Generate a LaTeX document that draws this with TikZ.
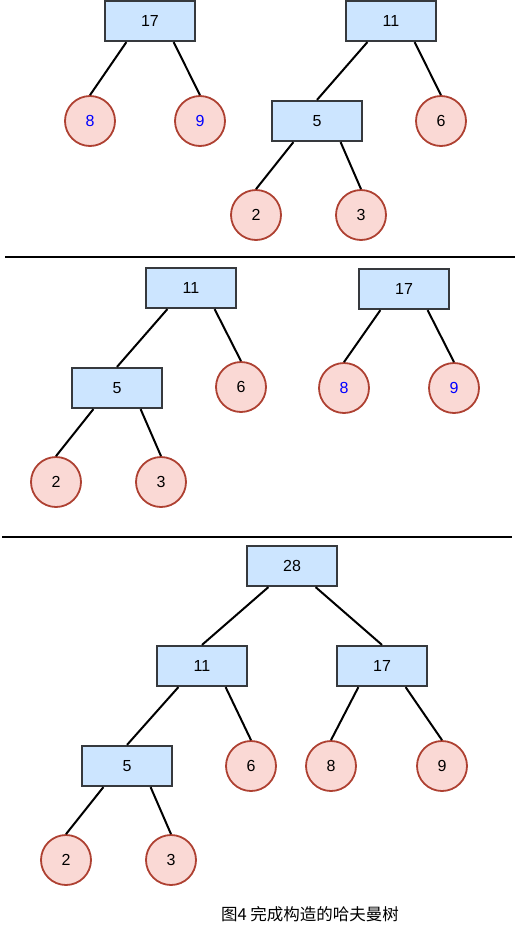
\documentclass[tikz,border=0pt]{standalone}
\usepackage{fontspec}
\setmainfont{Liberation Sans}
\newfontfamily\cjk{Noto Sans CJK SC}
\definecolor{boxfill}{HTML}{CCE5FF}
\definecolor{boxline}{HTML}{36393D}
\definecolor{leaffill}{HTML}{FAD9D5}
\definecolor{leafline}{HTML}{AE4132}

\begin{document}
\begin{tikzpicture}[x=1pt,y=-1pt,line width=2pt]
  \def\dx{22.5pt}

\tikzstyle{sumnode}=[rectangle,draw=boxline,fill=boxfill,line width=2.2pt,minimum width=90pt,minimum height=40pt,inner sep=0pt,font=\fontsize{16}{18}\selectfont]
\tikzstyle{leafnode}=[circle,draw=leafline,fill=leaffill,line width=1.8pt,minimum size=50pt,inner sep=0pt,font=\fontsize{16}{18}\selectfont]
\tikzstyle{marked}=[text=blue]
\useasboundingbox (0,0) rectangle (517,932);

% first step: 17 and 11
\node[sumnode] (a17) at (150,21) {17};
\node[leafnode,marked] (a8) at (90,121) {8};
\node[leafnode,marked] (a9) at (200,121) {9};
\node[sumnode] (a11) at (391,21) {11};
\node[sumnode] (a5) at (317,121) {5};
\node[leafnode] (a6) at (441,121) {6};
\node[leafnode] (a2) at (256,215) {2};
\node[leafnode] (a3) at (361,215) {3};
\draw ([xshift=\dx]a17.south west) -- (a8.north);
\draw ([xshift=-\dx]a17.south east) -- (a9.north);
\draw ([xshift=\dx]a11.south west) -- (a5.north);
\draw ([xshift=-\dx]a11.south east) -- (a6.north);
\draw ([xshift=\dx]a5.south west) -- (a2.north);
\draw ([xshift=-\dx]a5.south east) -- (a3.north);

\coordinate (l1a) at (5,257);
\coordinate (l1b) at (515,257);
\draw (l1a) -- (l1b);

% second step: sorted
\node[sumnode] (b11) at (191,288) {11};
\node[sumnode] (b5) at (117,388) {5};
\node[leafnode] (b6) at (241,387) {6};
\node[leafnode] (b2) at (56,482) {2};
\node[leafnode] (b3) at (161,482) {3};
\node[sumnode] (b17) at (404,289) {17};
\node[leafnode,marked] (b8) at (344,388) {8};
\node[leafnode,marked] (b9) at (454,388) {9};
\draw ([xshift=\dx]b11.south west) -- (b5.north);
\draw ([xshift=-\dx]b11.south east) -- (b6.north);
\draw ([xshift=\dx]b5.south west) -- (b2.north);
\draw ([xshift=-\dx]b5.south east) -- (b3.north);
\draw ([xshift=\dx]b17.south west) -- (b8.north);
\draw ([xshift=-\dx]b17.south east) -- (b9.north);

\coordinate (l2a) at (2,537);
\coordinate (l2b) at (512,537);
\draw (l2a) -- (l2b);

% last step: 28
\node[sumnode] (c28) at (292,566) {28};
\node[sumnode] (c11) at (202,666) {11};
\node[sumnode] (c17) at (382,666) {17};
\node[sumnode] (c5) at (127,766) {5};
\node[leafnode] (c6) at (251,766) {6};
\node[leafnode] (c8) at (331,766) {8};
\node[leafnode] (c9) at (442,766) {9};
\node[leafnode] (c2) at (66,860) {2};
\node[leafnode] (c3) at (171,860) {3};
\draw ([xshift=\dx]c28.south west) -- (c11.north);
\draw ([xshift=-\dx]c28.south east) -- (c17.north);
\draw ([xshift=\dx]c11.south west) -- (c5.north);
\draw ([xshift=-\dx]c11.south east) -- (c6.north);
\draw ([xshift=\dx]c17.south west) -- (c8.north);
\draw ([xshift=-\dx]c17.south east) -- (c9.north);
\draw ([xshift=\dx]c5.south west) -- (c2.north);
\draw ([xshift=-\dx]c5.south east) -- (c3.north);

\node[font=\cjk\fontsize{16.5}{18}\selectfont] (cap) at (310,914) {图4 完成构造的哈夫曼树};
\end{tikzpicture}
\end{document}
